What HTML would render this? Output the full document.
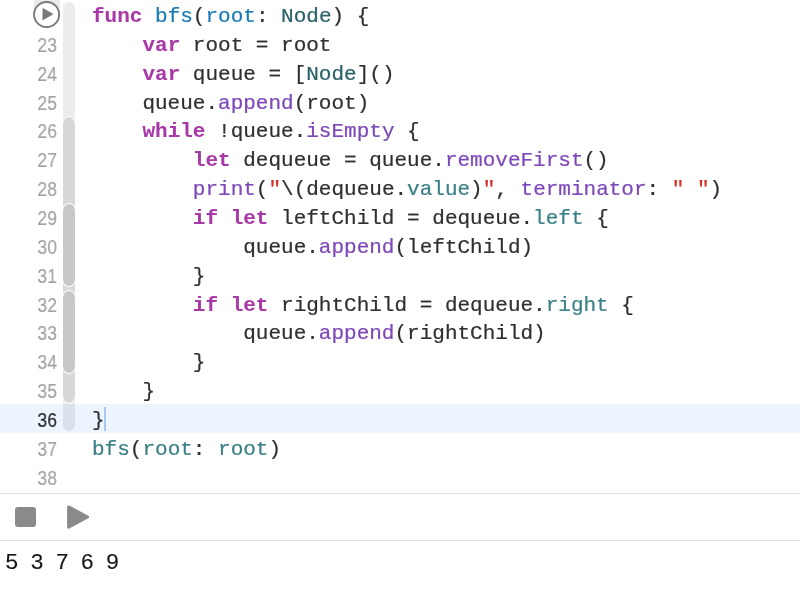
<!DOCTYPE html>
<html><head><meta charset="utf-8">
<style>
.cl,.ln{will-change:transform}
.cl{-webkit-text-stroke:0.22px}
.cl .k{-webkit-text-stroke:0.1px}
html,body{margin:0;padding:0;background:#fff;width:800px;height:596px;overflow:hidden;position:relative}
.ln{position:absolute;left:0;width:57px;text-align:right;font-family:"Liberation Sans",sans-serif;font-size:19.5px;padding-top:1.5px;-webkit-text-stroke:0.2px;transform:scaleX(0.9);transform-origin:56.5px 0;color:#a3a3a3;height:28.86px;line-height:28.86px}
.cl{position:absolute;left:91.5px;padding-top:2.7px;font-family:"Liberation Mono",monospace;font-size:21px;color:#303030;white-space:pre;height:28.86px;line-height:28.86px}
.k{color:#a83aa8;font-weight:bold}
.d{color:#187cb4}
.t{color:#3b8087}
.ty{color:#2a6268}
.o{color:#7d48b9}
.s{color:#d22e22}
.hl{position:absolute;left:0;top:404px;width:800px;height:29px;background:#ecf4fe}
.rib{position:absolute;left:63px;width:12px;border-radius:6px;box-shadow:0 0 0 1px #fff}
.sep{position:absolute;left:0;width:800px;height:1px;background:#dfdfdf}
</style></head><body>
<div class="hl"></div>
<div style="position:absolute;left:34px;top:0;width:26px;height:14px;background:#ebebeb"></div>
<svg style="position:absolute;left:0;top:0" width="800" height="40">
<circle cx="46.6" cy="14.5" r="12.55" fill="#fff" stroke="#7a7a7a" stroke-width="1.9"/>
<path d="M42.6 8.8 Q42.4 7.9 43.3 8.3 L52.6 13.6 Q53.3 14.15 52.6 14.7 L43.3 19.9 Q42.4 20.4 42.4 19.4 Z" fill="#7a7a7a"/>
</svg>
<div class="rib" style="top:2px;height:429px;background:rgba(0,0,0,0.075);box-shadow:none"></div>
<div class="rib" style="top:117px;height:285.5px;background:#d8d8d8;border-radius:6px/7px"></div>
<div class="rib" style="top:203.6px;height:82.8px;background:#c8c8c8;border-radius:6px/7px"></div>
<div class="rib" style="top:290.5px;height:82.5px;background:#c8c8c8;border-radius:6px/7px"></div>

<div class="ln" style="top:28.86px">23</div>
<div class="ln" style="top:57.72px">24</div>
<div class="ln" style="top:86.58px">25</div>
<div class="ln" style="top:115.44px">26</div>
<div class="ln" style="top:144.3px">27</div>
<div class="ln" style="top:173.16px">28</div>
<div class="ln" style="top:202.02px">29</div>
<div class="ln" style="top:230.88px">30</div>
<div class="ln" style="top:259.74px">31</div>
<div class="ln" style="top:288.6px">32</div>
<div class="ln" style="top:317.46px">33</div>
<div class="ln" style="top:346.32px">34</div>
<div class="ln" style="top:375.18px">35</div>
<div class="ln" style="top:404.04px;color:#262626">36</div>
<div class="ln" style="top:432.9px">37</div>
<div class="ln" style="top:461.76px">38</div>

<div class="cl" style="top:0px"><span class="k">func</span> <span class="d">bfs</span>(<span class="d">root</span>: <span class="ty">Node</span>) {</div>
<div class="cl" style="top:28.86px">    <span class="k">var</span> root = root</div>
<div class="cl" style="top:57.72px">    <span class="k">var</span> queue = [<span class="ty">Node</span>]()</div>
<div class="cl" style="top:86.58px">    queue.<span class="o">append</span>(root)</div>
<div class="cl" style="top:115.44px">    <span class="k">while</span> !queue.<span class="o">isEmpty</span> {</div>
<div class="cl" style="top:144.3px">        <span class="k">let</span> dequeue = queue.<span class="o">removeFirst</span>()</div>
<div class="cl" style="top:173.16px">        <span class="o">print</span>(<span class="s">"</span>\(dequeue.<span class="t">value</span>)<span class="s">"</span>, <span class="o">terminator</span>: <span class="s">" "</span>)</div>
<div class="cl" style="top:202.02px">        <span class="k">if let</span> leftChild = dequeue.<span class="t">left</span> {</div>
<div class="cl" style="top:230.88px">            queue.<span class="o">append</span>(leftChild)</div>
<div class="cl" style="top:259.74px">        }</div>
<div class="cl" style="top:288.6px">        <span class="k">if let</span> rightChild = dequeue.<span class="t">right</span> {</div>
<div class="cl" style="top:317.46px">            queue.<span class="o">append</span>(rightChild)</div>
<div class="cl" style="top:346.32px">        }</div>
<div class="cl" style="top:375.18px">    }</div>
<div class="cl" style="top:404.04px">}</div>
<div class="cl" style="top:432.9px"><span class="t">bfs</span>(<span class="t">root</span>: <span class="t">root</span>)</div>

<div style="position:absolute;left:104px;top:406.5px;width:2px;height:24.5px;background:#a8c7f5"></div>

<div class="sep" style="top:492.5px"></div>
<div style="position:absolute;left:15.3px;top:506.6px;width:20.4px;height:20.2px;border-radius:3px;background:#8a8a8a"></div>
<svg style="position:absolute;left:0;top:490px" width="120" height="50">
<path d="M68.6 16.9 L87.6 27 L68.6 37.1 Z" fill="#8a8a8a" stroke="#8a8a8a" stroke-width="3" stroke-linejoin="round"/>
</svg>
<div class="sep" style="top:540.2px"></div>
<div class="cl" style="left:4.5px;top:546px;color:#161616;font-size:22.5px;letter-spacing:-0.9px;-webkit-text-stroke:0.1px">5 3 7 6 9 </div>
</body></html>
